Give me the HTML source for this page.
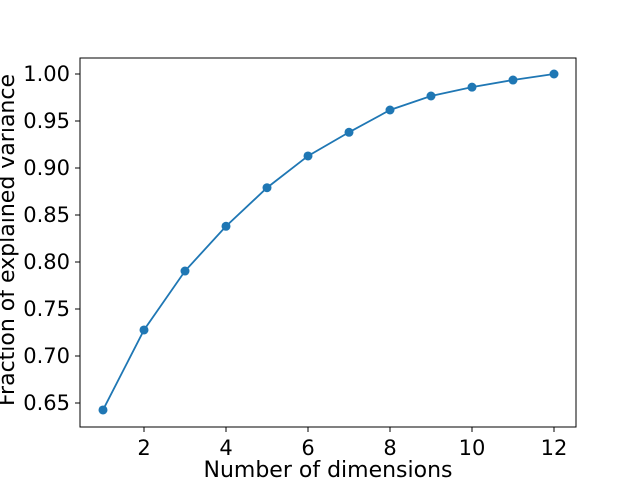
<!DOCTYPE html>
<html><head><meta charset="utf-8"><style>
body{margin:0;background:#fff;}
svg text{font-family:"DejaVu Sans","Liberation Sans",sans-serif;fill:#000;}
</style></head><body>
<svg id="chart" width="640" height="480" xmlns="http://www.w3.org/2000/svg"></svg>
<script>
const dims=[1,2,3,4,5,6,7,8,9,10,11,12];
const fracs=[0.6426,0.7277,0.7904,0.838,0.879,0.9128,0.938,0.9617,0.9766,0.986,0.9936,1.0];
const xTicks=[2,4,6,8,10,12];
const yTicks=[0.65,0.70,0.75,0.80,0.85,0.90,0.95,1.00];
const L=80,R=576,T=58,B=427;
const x=v=>103+(v-1)*41;
const y=v=>74+(1-v)*940;
const svg=document.getElementById('chart');
const NS='http://www.w3.org/2000/svg';
function mk(t,a,p){const e=document.createElementNS(NS,t);for(const k in a)e.setAttribute(k,a[k]);(p||svg).appendChild(e);return e;}
const frame=mk('rect',{x:L,y:T,width:R-L,height:B-T,fill:'none',stroke:'#000','stroke-width':1});


xTicks.forEach(v=>{
  const l=mk('line',{x1:x(v),x2:x(v),y1:B,y2:B+5,stroke:'#000'});
  
  
  const t=mk('text',{x:x(v),y:B+28,'text-anchor':'middle','font-size':21});
  t.textContent=v;
  
  
});
yTicks.forEach(v=>{
  const l=mk('line',{x1:L-5,x2:L,y1:y(v),y2:y(v),stroke:'#000'});
  
  
  const t=mk('text',{x:L-10,y:y(v)+7,'text-anchor':'end','font-size':21});
  t.textContent=v.toFixed(2);
  
  
});
const line=mk('polyline',{points:dims.map((d,i)=>x(d)+','+y(fracs[i])).join(' '),fill:'none',stroke:'#1f77b4','stroke-width':1.8});


dims.forEach((d,i)=>{
  const c=mk('circle',{cx:x(d),cy:y(fracs[i]),r:4.5,fill:'#1f77b4'});
  
  
});
const xt=mk('text',{x:(L+R)/2,y:477,'text-anchor':'middle','font-size':22});
xt.textContent='Number of dimensions';


const yt=mk('text',{x:0,y:0,'text-anchor':'middle','font-size':22,transform:'translate(14,240) rotate(-90)'});
yt.textContent='Fraction of explained variance';


</script>
</body></html>
